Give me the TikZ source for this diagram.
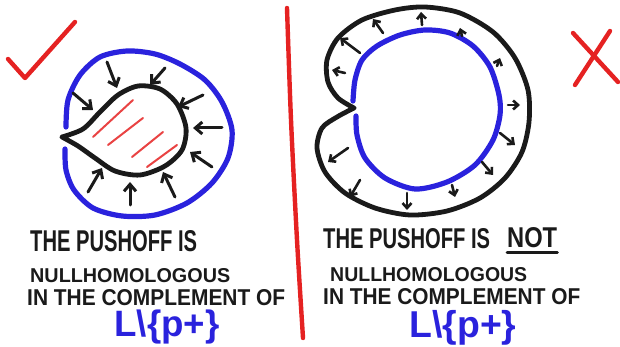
\documentclass[tikz,border=0pt]{standalone}
\usepackage{fontspec}
\setmainfont{Liberation Sans}
\usetikzlibrary{arrows.meta}
\definecolor{Pen}{HTML}{1A1A1A}
\definecolor{Ink}{HTML}{2A22DD}
\definecolor{Marker}{HTML}{E52222}
\tikzset{
    bluecurve/.style={Ink, line width=5.2pt, line cap=round, line join=round},
    blackcurve/.style={Pen, line width=4.8pt, line cap=round, line join=round},
    hatch/.style={Marker!85, line width=2pt, line cap=round},
    inarrow/.style={-{Straight Barb[length=7pt, width=12pt]}, Pen, line width=3pt, line cap=round},
    outarrow/.style={-{Straight Barb[length=5pt, width=9pt]}, Pen, line width=2.6pt, line cap=round},
    redmark/.style={Marker, line width=4.4pt, line cap=round, line join=round},
    handtext/.style={inner sep=0pt, text=Pen, font=\bfseries},
}

\begin{document}
\begin{tikzpicture}[x=1pt, y=-1pt]
    \useasboundingbox (0,0) rectangle (620,347);

    % Separatore
    \draw[redmark] plot[smooth] coordinates {(287,8) (291,120) (297,240) (303,338)};

    % Giusto (sinistra)
    \draw[redmark] (8,59) -- (25,78) -- (75,22);
    \draw[bluecurve] plot[smooth] coordinates {(66,127) (68,100) (80,75) (100,57) (127,51) (155,54) (180,64) (205,80) (222,102) (232,130) (228,158) (212,183) (187,203) (155,215) (122,216) (93,208) (74,190) (66,170) (65,149)};
    \draw[blackcurve] plot[smooth] coordinates {(62,137) (83,129) (100,112) (118,95) (138,86) (160,89) (177,104) (186,128) (182,150) (165,166) (140,175) (115,171) (95,158) (78,146) (62,137)};
    \foreach \xa/\ya/\xb/\yb in {93/137/133/100, 108/145/143/118, 132/157/163/132, 147/167/177/145}
        \draw[hatch] (\xa,\ya) -- (\xb,\yb);
    \foreach \xa/\ya/\xb/\yb in {107/62/117/88, 165/68/150/85, 203/95/178/107, 222/128/193/128, 212/167/190/152,
                                 175/197/163/172, 130/205/130/182, 88/192/102/168, 73/93/93/110}
        \draw[inarrow] (\xa,\ya) -- (\xb,\yb);

    % Sbagliato (destra)
    \draw[redmark] (573,33) -- (618,82);
    \draw[redmark] (610,31) -- (575,85);
    \draw[blackcurve] plot[smooth] coordinates {(354,108) (338,98) (328,82) (327,60) (338,38) (362,20) (395,10) (425,7) (460,13) (493,32) (515,58) (528,90) (529,122) (522,152) (505,178) (480,198) (447,211) (410,215) (375,208) (345,193) (325,172) (317,148) (322,128) (337,117) (354,108)};
    \draw[bluecurve] plot[smooth] coordinates {(353,101) (355,80) (362,60) (377,46) (400,35) (425,30) (450,33) (473,46) (490,67) (499,95) (500,115) (493,140) (475,165) (447,182) (415,189) (385,178) (365,158) (357,135) (356,116)};
    \foreach \xa/\ya/\xb/\yb in {360/53/340/38, 383/33/373/19, 422/25/421/12, 345/73/332/70, 462/36/460/28,
                                 497/66/500/58, 508/105/520/105, 500/133/515/145, 482/162/493/175,
                                 452/185/455/197, 348/148/328/162, 360/180/350/197, 407/193/407/210}
        \draw[outarrow] (\xa,\ya) -- (\xb,\yb);

    % Testo sinistra
    \node[handtext, anchor=west] (ltA) at (30,241) {\resizebox{167pt}{21pt}{THE PUSHOFF IS}};
    \node[handtext, anchor=west] (ltB) at (30,276) {\resizebox{200pt}{14pt}{NULLHOMOLOGOUS}};
    \node[handtext, anchor=west] (ltC) at (27,298) {\resizebox{258pt}{16pt}{IN THE COMPLEMENT OF}};
    \node[handtext, text=Ink] (ltD) at (167,327) {\resizebox{105pt}{!}{L\textbackslash\{p+\}}};

    % Testo destra
    \node[handtext, anchor=west] (rtA) at (323,239) {\resizebox{167pt}{20pt}{THE PUSHOFF IS}};
    \node[handtext, anchor=west] (rtNot) at (507,238) {\resizebox{50pt}{20pt}{NOT}};
    \draw[Pen, line width=3pt, line cap=round] ([yshift=-4pt]rtNot.south west) -- ([yshift=-4pt]rtNot.south east);
    \node[handtext, anchor=west] (rtB) at (330,275) {\resizebox{197pt}{14pt}{NULLHOMOLOGOUS}};
    \node[handtext, anchor=west] (rtC) at (323,297) {\resizebox{257pt}{16pt}{IN THE COMPLEMENT OF}};
    \node[handtext, text=Ink] (rtD) at (463,328) {\resizebox{107pt}{!}{L\textbackslash\{p+\}}};
\end{tikzpicture}
\end{document}
